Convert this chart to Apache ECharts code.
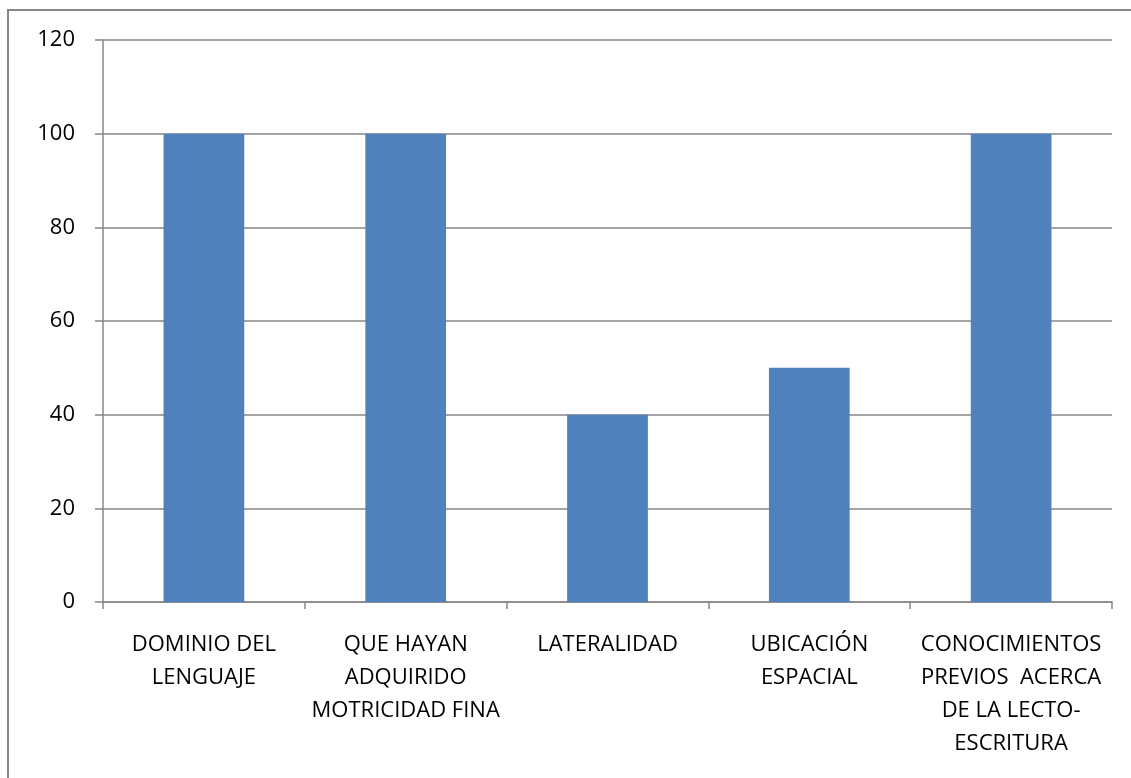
<!DOCTYPE html>
<html>
<head>
<meta charset="utf-8">
<script src="https://cdn.jsdelivr.net/npm/echarts@6/dist/echarts.min.js"></script>
<style>
  html, body { margin: 0; padding: 0; background: #fff; }
  #content { width: 1131px; height: 778px; }
</style>
</head>
<body>
<div id="content"></div>
<script>
// datos
let categories = [
  "DOMINIO DEL\nLENGUAJE",
  "QUE HAYAN\nADQUIRIDO\nMOTRICIDAD FINA",
  "LATERALIDAD",
  "UBICACIÓN\nESPACIAL",
  "CONOCIMIENTOS\nPREVIOS  ACERCA\nDE LA LECTO-\nESCRITURA",
];
let values = [100, 100, 40, 50, 100];
let yMin = 0;
let yMax = 120;
let yStep = 20;

let myChart = echarts.init(document.getElementById("content"));
myChart.setOption({
  animation: false,
  textStyle: { fontFamily: "Open Sans, Liberation Sans, sans-serif" },
  graphic: [
    {
      type: "rect",
      shape: { x: 8, y: 10, width: 1200, height: 800 },
      style: { fill: "none", stroke: "#868686", lineWidth: 2 },
    },
  ],
  grid: {
    left: 103,
    right: 19,
    top: 40,
    bottom: 176,
  },
  xAxis: {
    type: "category",
    data: categories,
    axisLine: { lineStyle: { color: "#868686", width: 1.5 } },
    axisTick: { show: true, length: 7, lineStyle: { color: "#868686", width: 1.5 } },
    axisLabel: {
      interval: 0,
      hideOverlap: false,
      color: "#000",
      fontSize: 22,
      lineHeight: 33,
      margin: 26,
      align: "center",
      verticalAlign: "top",
    },
  },
  yAxis: {
    type: "value",
    min: yMin,
    max: yMax,
    interval: yStep,
    axisLine: { show: true, lineStyle: { color: "#868686", width: 1.5 } },
    axisTick: { show: true, length: 8, lineStyle: { color: "#868686", width: 1.5 } },
    axisLabel: { color: "#000", fontSize: 22, margin: 28 },
    splitLine: { lineStyle: { color: "#868686", width: 1.5 } },
  },
  series: [
    {
      type: "bar",
      data: values,
      barCategoryGap: "60%",
      itemStyle: { color: "#4F81BD" },
    },
  ],
});
window.addEventListener("resize", function () {
  myChart.resize();
});
</script>
</body>
</html>
